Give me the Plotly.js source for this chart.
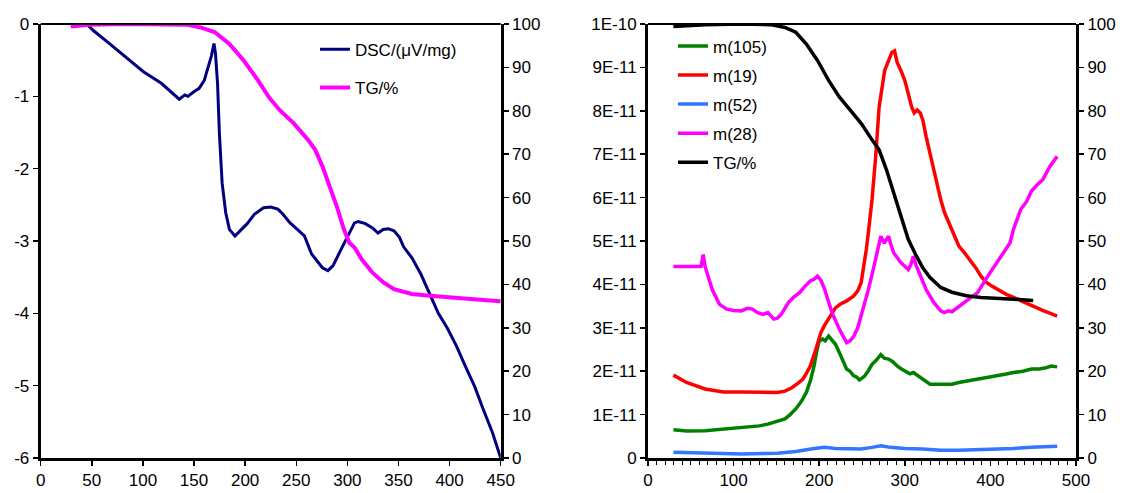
<!DOCTYPE html>
<html>
<head>
<meta charset="utf-8">
<script src="https://cdn.plot.ly/plotly-3.0.1.min.js"></script>
<style>html,body{margin:0;padding:0;background:#fff;}#chart{width:1129px;height:493px;}</style>
</head>
<body>
<div id="chart"></div>
<script>
// ---------- Left panel: DSC / TG ----------
const dscT = [45, 51.5, 65.5, 83, 100.5, 118, 135.5, 141, 144, 149.5, 155, 160, 163.5, 167, 169.5, 171, 173, 174.8, 177.5, 181, 184.6, 190, 195, 202, 209, 218, 225, 232, 237, 244, 251, 258, 265, 270, 275.6, 281, 286, 293, 298, 302, 307, 310.6, 317.6, 324.6, 330, 335, 340, 345.6, 351, 355, 363, 372, 380.7, 389, 398, 407, 415.7, 424.5, 433, 442, 450];
const dscV = [0, -0.09, -0.25, -0.46, -0.66, -0.82, -1.04, -0.98, -1.0, -0.94, -0.89, -0.78, -0.62, -0.44, -0.27, -0.41, -0.82, -1.51, -2.2, -2.61, -2.84, -2.93, -2.86, -2.76, -2.63, -2.54, -2.53, -2.56, -2.63, -2.75, -2.84, -2.93, -3.18, -3.27, -3.37, -3.41, -3.34, -3.14, -3.0, -2.89, -2.75, -2.73, -2.76, -2.82, -2.89, -2.84, -2.83, -2.86, -2.95, -3.08, -3.23, -3.46, -3.73, -4.0, -4.21, -4.46, -4.74, -5.01, -5.33, -5.65, -6.0];

const tgLT = [29.4, 48, 83, 118, 142.5, 156.5, 170.5, 184.6, 198.6, 212.6, 223, 233.6, 247.6, 261.6, 268.6, 275.6, 282.6, 289.6, 296.6, 301.9, 307, 314, 324.6, 335, 345.6, 363, 380.7, 398, 415.7, 433, 450];
const tgLV = [99.4, 99.85, 100, 100, 99.85, 99.2, 98.1, 95.4, 91.6, 87, 83.2, 80.2, 77.1, 73.3, 71, 67.2, 62.6, 58, 52.7, 49.6, 48.5, 45.8, 42.7, 40.5, 38.9, 37.8, 37.4, 37.0, 36.6, 36.4, 36.1];

const dscTickVals = [-6, -5, -4, -3, -2, -1, 0];
const dscTickText = ["-6", "-5", "-4", "-3", "-2", "-1", "0"];

// ---------- Right panel: MS ion currents (units of 1E-11) / TG ----------
const m105T = [29.7, 45, 66.6, 85, 100, 115, 130, 140, 151, 160, 166, 172.6, 179, 185, 190, 194, 197, 200, 204, 207, 211, 215, 219, 223.5, 228, 232, 236, 240, 244, 247, 250, 253, 257, 261.7, 266, 272, 276, 281, 286, 291, 296, 302, 306, 310, 315, 321, 325, 329.5, 335, 342, 348, 355, 363, 375, 385, 395, 406, 417, 427, 438, 448, 457, 465, 471, 478];
const m105V = [0.65, 0.62, 0.63, 0.66, 0.70, 0.71, 0.74, 0.78, 0.84, 0.90, 1.00, 1.13, 1.30, 1.51, 1.80, 2.12, 2.45, 2.70, 2.74, 2.70, 2.81, 2.70, 2.62, 2.43, 2.25, 2.05, 2.00, 1.90, 1.86, 1.80, 1.84, 1.89, 2.00, 2.16, 2.24, 2.38, 2.30, 2.28, 2.22, 2.12, 2.05, 1.97, 1.94, 1.97, 1.90, 1.82, 1.76, 1.70, 1.70, 1.70, 1.68, 1.70, 1.74, 1.78, 1.82, 1.84, 1.89, 1.93, 1.97, 2.00, 2.05, 2.05, 2.08, 2.12, 2.10];

const m19T = [29.7, 45, 66.6, 88, 109, 130, 151, 160, 168, 175, 181, 185, 189.6, 196, 202, 206, 211, 215, 219, 225, 232, 240, 245, 249, 252, 255, 257.4, 261.7, 266, 270, 276.5, 281, 285, 288, 291, 296, 300, 304, 308, 311, 314.5, 318, 321, 325, 329.5, 334, 338, 342, 346.5, 351, 355, 359, 363, 370, 376, 383, 389, 395, 401.6, 410, 418.6, 427, 435.5, 444, 452.5, 461, 470, 478];
const m19V = [1.91, 1.74, 1.59, 1.52, 1.52, 1.52, 1.51, 1.54, 1.62, 1.72, 1.82, 1.95, 2.12, 2.50, 2.89, 3.05, 3.20, 3.35, 3.46, 3.55, 3.62, 3.73, 3.85, 4.04, 4.40, 4.80, 5.19, 5.95, 6.95, 8.09, 8.93, 9.15, 9.35, 9.38, 9.12, 8.90, 8.70, 8.40, 8.09, 7.95, 8.02, 7.95, 7.79, 7.40, 7.02, 6.60, 6.26, 5.95, 5.65, 5.45, 5.27, 5.08, 4.89, 4.72, 4.57, 4.38, 4.19, 4.05, 3.96, 3.86, 3.77, 3.70, 3.62, 3.55, 3.46, 3.40, 3.33, 3.27];

const m52T = [29.7, 66.6, 109, 151, 172.6, 194, 206.5, 219, 236, 249, 261.7, 272, 283, 300, 321, 342, 363, 385, 406, 427, 448, 478];
const m52V = [0.13, 0.11, 0.09, 0.11, 0.15, 0.22, 0.245, 0.22, 0.21, 0.21, 0.245, 0.28, 0.245, 0.22, 0.21, 0.18, 0.18, 0.19, 0.21, 0.22, 0.245, 0.27];

const m28T = [29.7, 45, 62, 64.5, 66.6, 75, 83.5, 92, 100, 109, 116, 122, 128, 134.4, 140, 147, 151, 155.6, 164, 170, 177, 183, 189.6, 194, 198, 202, 206.5, 210, 215, 223.5, 232, 236, 240.5, 245, 249, 257.4, 262, 266, 270, 272, 276, 281, 284, 287, 291, 295.6, 300, 304, 307, 310, 313, 317, 325, 334, 342, 346, 350.7, 355, 359, 365, 372, 385, 397, 410, 423, 427, 435.5, 442, 448, 455, 461, 469.5, 478];
const m28V = [4.41, 4.41, 4.41, 4.69, 4.42, 3.88, 3.54, 3.43, 3.40, 3.39, 3.45, 3.43, 3.35, 3.31, 3.35, 3.20, 3.22, 3.31, 3.58, 3.70, 3.81, 3.95, 4.08, 4.12, 4.19, 4.10, 3.88, 3.65, 3.35, 2.97, 2.66, 2.70, 2.81, 3.00, 3.27, 3.88, 4.25, 4.57, 4.95, 5.11, 4.95, 5.11, 4.90, 4.73, 4.62, 4.50, 4.42, 4.34, 4.45, 4.65, 4.45, 4.27, 3.88, 3.58, 3.39, 3.35, 3.39, 3.37, 3.43, 3.52, 3.62, 3.81, 4.19, 4.57, 4.96, 5.27, 5.73, 5.90, 6.15, 6.30, 6.41, 6.72, 6.95];

const tgRT = [29.7, 66.6, 109, 143, 160, 172.6, 185, 198, 211, 223.5, 236, 249, 261.7, 270, 278.6, 287, 295.6, 304, 312.6, 321, 329.5, 342, 355, 372, 389, 406, 427, 450];
const tgRV = [99.4, 99.85, 100, 99.85, 99.2, 98.1, 95.4, 91.6, 87, 83.2, 80.2, 77.1, 73.3, 71, 66.4, 61.1, 55.7, 50.4, 46.9, 43.8, 41.6, 39.3, 38.2, 37.4, 37.0, 36.9, 36.6, 36.3];

const msTickVals = [0, 1, 2, 3, 4, 5, 6, 7, 8, 9, 10].map(k => k * 1e-11);
const msTickText = ["0", "1E-11", "2E-11", "3E-11", "4E-11", "5E-11", "6E-11", "7E-11", "8E-11", "9E-11", "1E-10"];
const toAmp = v => v * 1e-11;

const FONT = {family: "Liberation Sans, Arial, sans-serif", size: 17, color: "#000"};
const LW = 3.5;

const traces = [
  {x: dscT, y: dscV, xaxis: "x", yaxis: "y", name: "DSC/(μV/mg)", mode: "lines",
   line: {color: "#000080", width: 3}, legend: "legend", legendgroup: "a"},
  {x: tgLT, y: tgLV, xaxis: "x", yaxis: "y2", name: "TG/%", mode: "lines",
   line: {color: "#FF00FF", width: 4}, legend: "legend", legendgroup: "b"},
  {x: m105T, y: m105V.map(toAmp), xaxis: "x2", yaxis: "y3", name: "m(105)", mode: "lines",
   line: {color: "#008000", width: LW}, legend: "legend2", legendgroup: "c"},
  {x: m19T, y: m19V.map(toAmp), xaxis: "x2", yaxis: "y3", name: "m(19)", mode: "lines",
   line: {color: "#FF0000", width: LW}, legend: "legend2", legendgroup: "d"},
  {x: m52T, y: m52V.map(toAmp), xaxis: "x2", yaxis: "y3", name: "m(52)", mode: "lines",
   line: {color: "#3377FF", width: LW}, legend: "legend2", legendgroup: "e"},
  {x: m28T, y: m28V.map(toAmp), xaxis: "x2", yaxis: "y3", name: "m(28)", mode: "lines",
   line: {color: "#FF00FF", width: LW}, legend: "legend2", legendgroup: "f"},
  {x: tgRT, y: tgRV, xaxis: "x2", yaxis: "y4", name: "TG/%", mode: "lines",
   line: {color: "#000000", width: 3.5}, legend: "legend2", legendgroup: "g"}
];

const axBase = {showline: true, linecolor: "#000", linewidth: 3, ticks: "outside", ticklen: 5,
  tickwidth: 1.5, tickcolor: "#000", showgrid: false, zeroline: false, tickfont: FONT, fixedrange: true};

const d1 = [40.7 / 1129, 500.7 / 1129];
const d2 = [648 / 1129, 1076 / 1129];

const layout = {
  width: 1129, height: 493,
  margin: {l: 0, r: 0, t: 24, b: 35},
  paper_bgcolor: "#fff", plot_bgcolor: "#fff",
  font: FONT,
  showlegend: true,
  xaxis: Object.assign({}, axBase, {domain: d1, range: [0, 450], dtick: 50, tick0: 0, anchor: "y"}),
  yaxis: Object.assign({}, axBase, {range: [-6, 0], tickmode: "array", tickvals: dscTickVals, ticktext: dscTickText, anchor: "x"}),
  yaxis2: Object.assign({}, axBase, {range: [0, 100], dtick: 10, overlaying: "y", side: "right", anchor: "x"}),
  xaxis2: Object.assign({}, axBase, {domain: d2, range: [0, 500], dtick: 100, tick0: 0, anchor: "y3",
    minor: {dtick: 10, ticks: "outside", ticklen: 4, tickwidth: 1, tickcolor: "#000"}}),
  yaxis3: Object.assign({}, axBase, {range: [0, 1e-10], tickmode: "array", tickvals: msTickVals, ticktext: msTickText, anchor: "x2"}),
  yaxis4: Object.assign({}, axBase, {range: [0, 100], dtick: 10, overlaying: "y3", side: "right", anchor: "x2"}),
  legend: {x: 315 / 1129, y: 0.982, xanchor: "left", yanchor: "top", bgcolor: "rgba(0,0,0,0)",
    font: FONT, itemwidth: 30, tracegroupgap: 13, traceorder: "grouped"},
  legend2: {x: 673 / 1129, y: 0.990, xanchor: "left", yanchor: "top", bgcolor: "rgba(0,0,0,0)",
    font: FONT, itemwidth: 30, tracegroupgap: 4, traceorder: "grouped"},
  shapes: [
    {type: "line", xref: "x domain", yref: "y domain", x0: 0, x1: 1, y0: 1, y1: 1, line: {color: "#000", width: 2}},
    {type: "line", xref: "x2 domain", yref: "y3 domain", x0: 0, x1: 1, y0: 1, y1: 1, line: {color: "#000", width: 2}}
  ]
};

Plotly.newPlot("chart", traces, layout, {displayModeBar: false, staticPlot: true});
</script>
</body>
</html>
